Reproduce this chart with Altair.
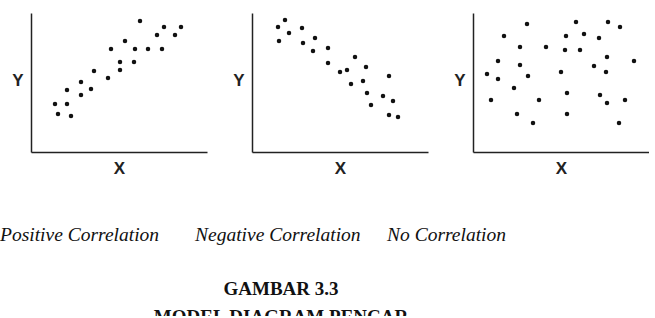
import altair as alt
import pandas as pd

# Data (units: arbitrary, origin at axes corner)
pos_x = [24, 27, 36, 40, 36, 50, 50, 60, 63, 77, 80, 89, 89, 94, 103, 104, 109, 117, 126, 131, 133, 144, 150]
pos_y = [48, 38, 48, 36, 62, 70, 57, 63, 81, 74, 103, 90, 82, 111, 90, 103, 131, 103, 117, 103, 125, 117, 125]

neg_x = [33, 26, 37, 27, 50, 51, 63, 61, 76, 76, 88, 95, 103, 114, 99, 111, 115, 119, 137, 131, 141, 137, 146]
neg_y = [132, 125, 119, 111, 124, 109, 114, 101, 104, 89, 80, 82, 95, 85, 68, 71, 59, 47, 76, 56, 51, 37, 35]

none_x = [54, 31, 47, 73, 25, 47, 14, 25, 55, 41, 18, 66, 44, 60, 103, 93, 111, 92, 107, 88, 94, 94,
          135, 147, 126, 134, 121, 133, 161, 127, 134, 152, 146]
none_y = [128, 116, 105, 105, 91, 87, 78, 73, 76, 64, 52, 52, 38, 29, 130, 116, 118, 102, 102, 80, 59, 38,
          130, 125, 114, 95, 86, 80, 91, 57, 49, 52, 29]

captions = ["Positive Correlation", "Negative Correlation", "No Correlation"]
heading = ["GAMBAR 3.3", "MODEL DIAGRAM PENCAR"]

PW, PH = 176, 139


def panel(xs, ys):
    df = pd.DataFrame({"x": xs, "y": ys})
    common = dict(ticks=False, labels=False, grid=False, domainColor="#222", domainWidth=1.5,
                  titleFont="Liberation Sans", titleFontWeight="bold", titleFontSize=17,
                  titleColor="#222")
    return alt.Chart(df).mark_circle(size=20, color="#111", opacity=1).encode(
        x=alt.X("x:Q", scale=alt.Scale(domain=[0, 176], nice=False, zero=True),
                axis=alt.Axis(title="X", titlePadding=8, **common)),
        y=alt.Y("y:Q", scale=alt.Scale(domain=[0, 139], nice=False, zero=True),
                axis=alt.Axis(title="Y", titleAngle=0, titleAlign="right", titleBaseline="middle",
                              titleX=-8, titleY=67, **common)),
    ).properties(width=PW, height=PH)


panels = alt.hconcat(panel(pos_x, pos_y), panel(neg_x, neg_y), panel(none_x, none_y), spacing=25)

base = alt.Chart(pd.DataFrame({"a": [0]}))
cap_x = [-31, 164, 356]
layers = []
for cx, t in zip(cap_x, captions):
    layers.append(base.mark_text(font="Liberation Serif", fontStyle="italic", fontSize=19.5,
                                 color="#111", align="left", baseline="alphabetic").encode(
        x=alt.value(cx), y=alt.value(65), text=alt.value(t)))
for yy, t in zip([119, 147], heading):
    layers.append(base.mark_text(font="Liberation Serif", fontWeight="bold", fontSize=19,
                                 color="#111", align="center", baseline="alphabetic", clip=True).encode(
        x=alt.value(250), y=alt.value(yy), text=alt.value(t)))

texts = alt.layer(*layers).properties(width=615, height=140)

chart = alt.vconcat(panels, texts, spacing=0).properties(
    padding={"left": 0, "top": 13, "right": 0, "bottom": 0}
).configure_view(stroke=None)

chart.save("out.html", embed_options={"renderer": "svg", "actions": False})
